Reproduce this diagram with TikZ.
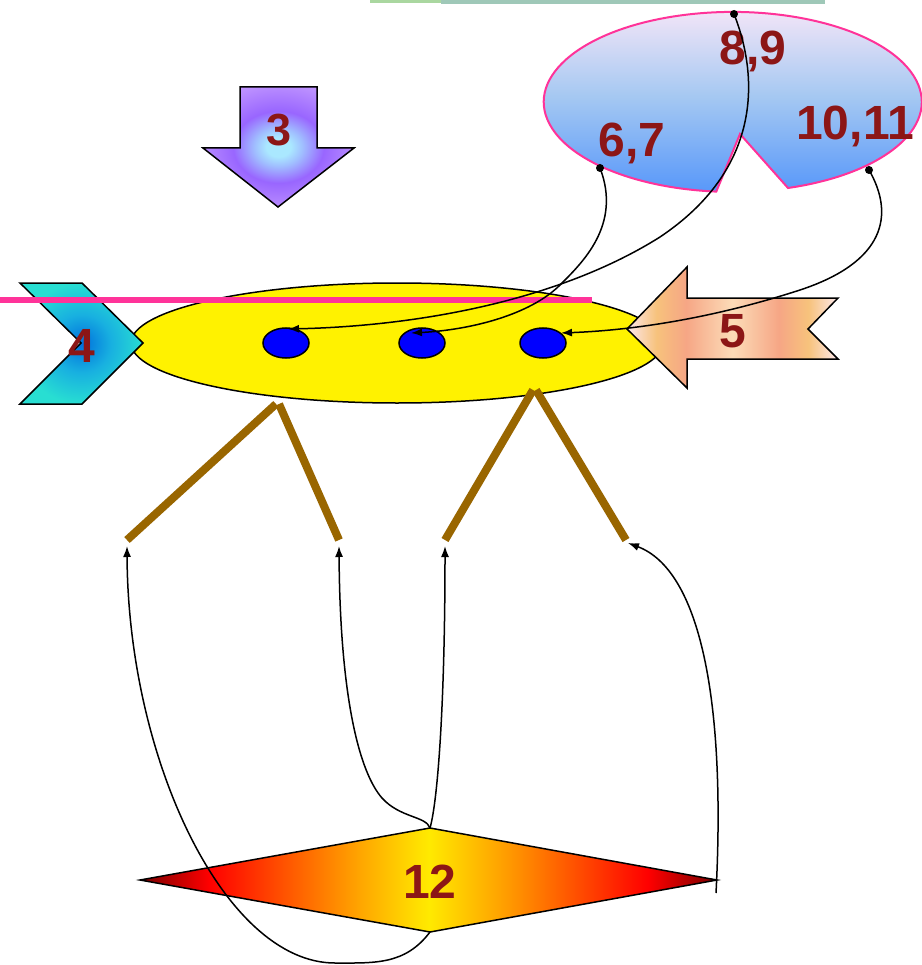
\documentclass[tikz,border=0pt]{standalone}
\usepackage{fontspec}
\setmainfont{Liberation Sans}
\usetikzlibrary{arrows.meta,shapes.geometric}
\definecolor{lblred}{RGB}{140,22,22}
\definecolor{pinkline}{RGB}{255,51,153}
\definecolor{barteal}{RGB}{159,200,184}
\definecolor{bargreen}{RGB}{170,215,160}
\definecolor{brownc}{RGB}{153,102,0}
\definecolor{dotblue}{RGB}{0,0,255}
\definecolor{ovtop}{RGB}{250,232,248}
\definecolor{ovmid}{RGB}{165,200,242}
\definecolor{ovbot}{RGB}{88,152,250}
\definecolor{pA}{RGB}{252,232,236}
\definecolor{pB}{RGB}{247,194,124}
\definecolor{pC}{RGB}{246,166,133}
\definecolor{pD}{RGB}{252,220,184}
\definecolor{dA}{RGB}{122,0,0}
\definecolor{dB}{RGB}{255,0,0}
\definecolor{dC}{RGB}{255,102,0}
\definecolor{dD}{RGB}{255,165,0}
\definecolor{dE}{RGB}{255,234,0}
\definecolor{gA}{RGB}{170,232,255}
\definecolor{gB}{RGB}{160,190,255}
\definecolor{gC}{RGB}{153,102,255}
\definecolor{gD}{RGB}{205,165,255}
\definecolor{cA}{RGB}{0,112,221}
\definecolor{cB}{RGB}{24,176,224}
\definecolor{cC}{RGB}{40,222,210}
\pgfdeclarehorizontalshading{peachshade}{100bp}{color(0bp)=(pA); color(25bp)=(pA); color(32bp)=(pB); color(39bp)=(pC); color(50bp)=(pD); color(61bp)=(pC); color(68bp)=(pB); color(75bp)=(pA); color(100bp)=(pA)}
\pgfdeclarehorizontalshading{fireshade}{100bp}{color(0bp)=(dA); color(25bp)=(dA); color(31bp)=(dB); color(39bp)=(dC); color(44bp)=(dD); color(50bp)=(dE); color(56bp)=(dD); color(61bp)=(dC); color(69bp)=(dB); color(75bp)=(dA); color(100bp)=(dA)}
\pgfdeclareradialshading{glowthree}{\pgfpoint{0bp}{0bp}}{color(0bp)=(gA); color(4bp)=(gA); color(8bp)=(gB); color(15bp)=(gC); color(32bp)=(gD); color(50bp)=(gD)}
\pgfdeclareradialshading{glowfour}{\pgfpoint{0bp}{0bp}}{color(0bp)=(cA); color(12bp)=(cB); color(25bp)=(cC); color(50bp)=(cC)}
\begin{document}
\begin{tikzpicture}[x=1pt,y=-1pt]
\tikzset{
 lbl/.style={text=lblred, font=\fontsize{48}{48}\selectfont\bfseries, inner sep=0pt, anchor=base},
 shapeline/.style={draw=black, line width=1.5pt, line join=miter},
 brownbar/.style={draw=brownc, line width=8pt},
 conn/.style={draw=black, line width=1.5pt, -{Latex[length=11pt,width=8pt]}},
 startdot/.style={fill=black},
 bluedot/.style={ellipse, draw=black, line width=1.5pt, fill=dotblue, minimum width=46pt, minimum height=30pt, inner sep=0pt},
}
\useasboundingbox (0,0) rectangle (921,965);
\fill[white] (0,0) rectangle (921,965);

% top bar
\fill[bargreen] (370,0) rectangle (441,3);
\fill[barteal] (441,0) rectangle (825,4);

% notched oval
\path[draw=pinkline, line width=2pt, top color=ovtop, bottom color=ovbot, middle color=ovmid]
  (788,188) arc[start angle=73, end angle=-265, x radius=189, y radius=90] -- (740,134) -- cycle;

% down arrow 3
\path[shapeline, shade, shading=glowthree] (240,87) -- (317,87) -- (317,148) -- (354,148) -- (278,207) -- (203,148) -- (240,148) -- cycle;

% yellow ellipse
\filldraw[fill=yellow, draw=black, line width=1.5pt] (397,343) ellipse [x radius=266, y radius=60];

% chevron 4
\path[shapeline, shade, shading=glowfour] (20,283) -- (82,283) -- (143,343) -- (82,404) -- (20,404) -- (81,343) -- cycle;

% arrow 5
\path[shapeline, shade, shading=peachshade] (627,329) -- (687,267) -- (687,298) -- (838,298) -- (808,329) -- (838,359) -- (687,359) -- (687,388) -- cycle;

% pink line
\draw[pinkline, line width=6pt] (0,300) -- (592,300);

% blue dots
\node[bluedot] (dot1) at (286,343) {};
\node[bluedot] (dot2) at (422,343) {};
\node[bluedot] (dot3) at (543,343) {};

% brown bars
\coordinate (b1) at (127,540);
\coordinate (b2) at (339,540);
\coordinate (b3) at (445,540);
\coordinate (b4) at (626,540);
\draw[brownbar] (b1) -- (276,404);
\draw[brownbar] (279,404) -- (b2);
\draw[brownbar] (b3) -- (533,390);
\draw[brownbar] (536,390) -- (b4);

% diamond 12
\path[shapeline, shade, shading=fireshade] (140,880) -- (430,828) -- (717,880) -- (430,932) -- cycle;
\coordinate (dtop) at (430,828);
\coordinate (dbot) at (430,932);
\coordinate (dright) at (716,893);

% labels
\node[lbl] (l89) at (753,65) {8,9};
\node[lbl] (l67) at (632,157) {6,7};
\node[lbl] (l1011) at (855,140) {10,11};
\node[lbl, font=\fontsize{45}{45}\selectfont\bfseries] (l3) at (279,146) {3};
\node[lbl] (l4) at (82,362) {4};
\node[lbl] (l5) at (733,347) {5};
\node[lbl] (l12) at (430,898) {12};

% connector endpoints
\coordinate (s89) at (734,14);
\coordinate (s67) at (600,168);
\coordinate (s1011) at (869,170);
\coordinate (t1) at (288,329);
\coordinate (t2) at (411,333);
\coordinate (t3) at (561,333);
\coordinate (ta) at (127,546);
\coordinate (tb) at (339,546);
\coordinate (tc) at (445,546);
\coordinate (td) at (628,543);

% connectors top
\draw[conn] (s89) .. controls (760,80) and (760,170) .. (660,237) .. controls (560,300) and (420,326) .. (t1);
\draw[conn] (s67) .. controls (622,225) and (582,263) .. (560,285) .. controls (530,315) and (470,330) .. (t2);
\draw[conn] (s1011) .. controls (895,215) and (885,262) .. (800,290) .. controls (720,316) and (640,330) .. (t3);
\fill[startdot] (s89) circle (4);
\fill[startdot] (s67) circle (4);
\fill[startdot] (s1011) circle (4);

% connectors bottom
\draw[conn] (dbot) .. controls (405,965) and (375,963) .. (335,963) .. controls (225,963) and (128,760) .. (ta);
\draw[conn] (dtop) .. controls (426,816) and (400,818) .. (382,798) .. controls (360,773) and (340,700) .. (tb);
\draw[conn] (dtop) .. controls (438,800) and (445,700) .. (tc);
\draw[conn] (dright) .. controls (726,700) and (700,570) .. (td);
\end{tikzpicture}
\end{document}
